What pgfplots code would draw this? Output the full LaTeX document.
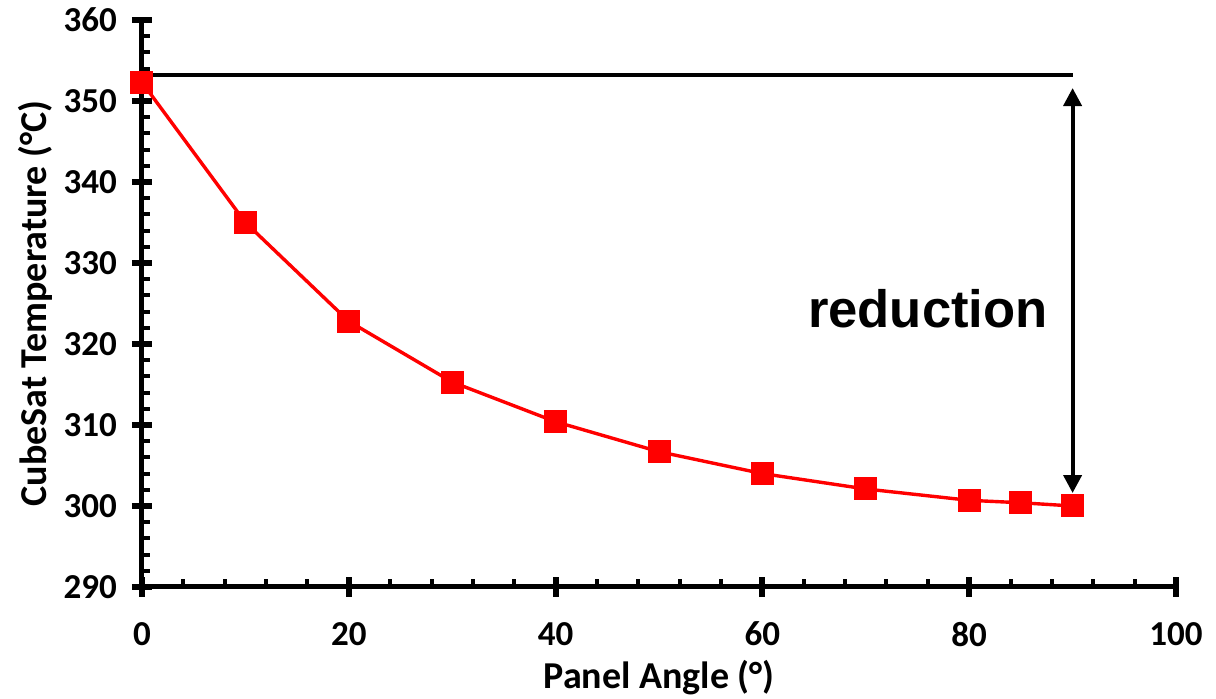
\documentclass[border=0pt]{standalone}
\usepackage{fontspec}
\setmainfont{Carlito}
\newfontfamily\arialfont{Liberation Sans}
\usepackage{pgfplots}
\pgfplotsset{compat=1.18}
\usetikzlibrary{arrows.meta}
\begin{document}
\begin{tikzpicture}
\begin{axis}[
  scale only axis,
  width=517pt, height=283.5pt,
  xmin=0, xmax=100, ymin=290, ymax=360,
  axis x line=bottom, axis y line=left,
  axis line style={-, line width=2.5pt},
  xtick={0,20,40,60,80,100},
  ytick={290,300,310,320,330,340,350,360},
  minor x tick num=4, minor y tick num=4,
  tick align=center,
  major tick length=10pt,
  minor tick length=4pt,
  major tick style={line width=3pt, black},
  minor tick style={line width=2pt, black},
  minor x tick style={yshift=2pt},
  minor y tick style={xshift=2pt},
  /pgf/number format/assume math mode=true,
  tick label style={font=\fontsize{17.5}{19}\selectfont\bfseries, black},
  xticklabel style={yshift=-9pt},
  yticklabel style={xshift=-4pt},
  xlabel={Panel Angle (°)},
  ylabel={CubeSat Temperature (°C)},
  label style={font=\fontsize{19}{21}\selectfont\bfseries},
  xlabel style={at={(axis description cs:0.5,0)}, anchor=base, yshift=-51pt},
  ylabel style={at={(axis description cs:0,0.5)}, anchor=south, yshift=41pt},
  clip=false,
]
\addplot[black, line width=2pt] coordinates {(0,353.2) (90,353.2)};
\addplot[red, line width=1.7pt, mark=square*, mark size=5.5pt, mark options={fill=red, draw=red, line width=0pt}]
coordinates {
(0,352.3) (10,335.0) (20,322.8) (30,315.3) (40,310.4) (50,306.7)
(60,304.0) (70,302.1) (80,300.7) (85,300.4) (90,300.0)
};
\draw[line width=2pt, {Triangle[width=9pt,length=9pt]}-{Triangle[width=9pt,length=9pt]}]
  (axis cs:90,351.6) -- (axis cs:90,301.6);
\node[font=\arialfont\fontsize{26.3}{30}\selectfont\bfseries] at (axis cs:76,324.4) {reduction};
\end{axis}
\pgfresetboundingbox
\path (current axis.south west) ++(-71pt,-56pt) coordinate (bl);
\path (current axis.north east) ++(20pt,10pt) coordinate (tr);
\path[use as bounding box] (bl) rectangle (tr);
\end{tikzpicture}
\end{document}
